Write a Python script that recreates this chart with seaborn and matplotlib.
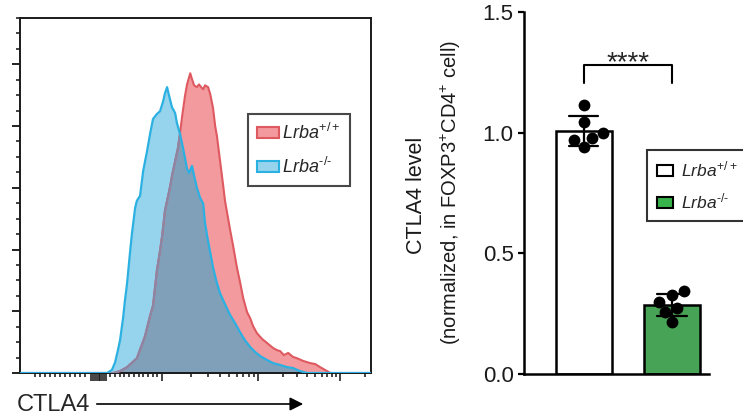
import numpy as np
import pandas as pd
import matplotlib
matplotlib.use("Agg")
import matplotlib.pyplot as plt
import seaborn as sns
from matplotlib.patches import Patch
from matplotlib.ticker import FixedLocator, FormatStrFormatter, NullFormatter

# ---------------- data ----------------
# Flow histogram: CTLA4 channel (0-1000 display units) vs % of mode
wt_channel = [0, 265, 285, 305, 333, 356, 371, 379, 390, 399, 405, 413, 419, 428, 433, 442,
              450, 456, 462, 470, 476, 485, 490, 496, 504, 510, 516, 522, 527, 536, 542, 550,
              556, 561, 570, 579, 584, 599, 607, 618, 627, 636, 647, 656, 664, 675, 690, 704,
              721, 732, 741, 752, 764, 778, 789, 807, 827, 841, 855, 869, 884, 898, 1000]
wt_count = [0, 0, 0.6, 1.9, 4.8, 11.9, 18.7, 21.9, 33.2, 39.7, 44.5, 52.6, 55.8, 60.6, 63.9, 68.7,
            72.9, 77.7, 83.2, 89.7, 93.5, 97.1, 95.2, 93.2, 92.6, 93.5, 92.6, 91.9, 93.2, 92.6, 90.3, 85.8,
            80.0, 76.8, 68.7, 60.6, 55.8, 46.1, 41.3, 34.2, 29.4, 24.2, 19.7, 17.7, 15.2, 12.9, 11.0, 9.7,
            8.1, 7.4, 7.1, 5.8, 6.5, 5.2, 4.8, 3.9, 3.2, 2.9, 1.9, 1.0, 0, 0, 0]

ko_channel = [0, 248, 262, 271, 279, 285, 294, 299, 305, 314, 319, 328, 333, 342, 351, 362,
              371, 379, 390, 399, 408, 413, 419, 425, 433, 442, 447, 456, 462, 470, 476, 482,
              490, 496, 504, 513, 522, 527, 533, 542, 550, 559, 570, 584, 599, 613, 627, 641,
              656, 670, 684, 704, 721, 741, 761, 778, 798, 818, 841, 1000]
ko_count = [0, 0, 1.0, 3.5, 7.4, 10.6, 18.1, 23.5, 29.0, 39.7, 45.2, 53.5, 55.8, 57.4, 65.5, 71.9,
            77.7, 82.3, 83.9, 84.8, 88.1, 90.6, 92.6, 89.7, 86.1, 84.2, 81.0, 77.4, 74.2, 69.7, 66.1, 64.8,
            67.1, 63.9, 60.0, 56.8, 54.8, 48.7, 44.5, 39.0, 34.2, 30.0, 25.8, 22.3, 18.7, 16.1, 13.2, 10.6,
            8.4, 6.8, 5.5, 4.2, 3.2, 2.6, 1.9, 1.6, 0.6, 0, 0, 0]

# x-axis (biexponential display) tick positions, channel units
neg_ticks = [43, 57, 71, 86, 100, 114, 128, 143, 157, 171, 185]
zero_ticks = [203, 209, 214, 219, 224, 229, 234, 240, 245]
pos_ticks = [257, 270, 284, 297, 311, 324, 338, 351, 365, 378, 390]
decade_ticks = [405, 678, 912]
decade_widths = [273, 234, 234]
y_major = [0, 20, 40, 60, 80, 100]
y_minor = [5, 10, 15, 25, 30, 35, 45, 50, 55, 65, 70, 75, 85, 90, 95, 105, 110, 115]

# Bar chart: CTLA4 level normalised, per mouse
genotypes = ["Lrba+/+", "Lrba-/-"]
wt_ctla4 = [1.113, 1.046, 0.979, 0.942, 0.971, 1.000]
ko_ctla4 = [0.329, 0.342, 0.275, 0.300, 0.258, 0.217]
bar_ticks = [0.0, 0.5, 1.0, 1.5]
sig_text = "****"
sig_top, sig_leg, sig_text_y = 1.28, 1.205, 1.258

legend_labels = [r"$\mathit{Lrba}^{+/+}$", r"$\mathit{Lrba}^{\text{-/-}}$"]

# ---------------- style ----------------
sns.set_theme(style="white")
plt.rcParams["font.family"] = ["Liberation Sans", "DejaVu Sans"]
plt.rcParams["mathtext.fontset"] = "custom"
plt.rcParams["mathtext.rm"] = "Liberation Sans"
plt.rcParams["mathtext.it"] = "Liberation Sans:italic"
plt.rcParams["mathtext.bf"] = "Liberation Sans:bold"

WT_FILL = "#f29a9e"
WT_EDGE = "#de5a60"
KO_FILL = "#95d4ec"
KO_EDGE = "#2bb0e2"
OVERLAP = "#80a0b9"
OVERLAP_EDGE = "#8a86a6"
GREEN = "#38b24a"

W, H = 743, 418
fig = plt.figure(figsize=(W / 100, H / 100), dpi=100)
fig.patch.set_facecolor("white")

# ---------------- left: histogram ----------------
ax1 = fig.add_axes([20 / W, 1 - 373 / H, 351 / W, 355 / H])
ko_fill = ax1.fill_between(ko_channel, ko_count, color=KO_FILL, lw=0, zorder=1)
ax1.fill_between(wt_channel, wt_count, color=WT_FILL, lw=0, zorder=1.1)
ov = ax1.fill_between(wt_channel, wt_count, color=OVERLAP, lw=0, zorder=1.2)
ov.set_clip_path(ko_fill.get_paths()[0], ax1.transData)

sns.lineplot(x=wt_channel, y=wt_count, color=WT_EDGE, lw=1.5, ax=ax1, sort=False, zorder=3)
sns.lineplot(x=wt_channel, y=wt_count, color=OVERLAP_EDGE, lw=1.5, ax=ax1, sort=False, zorder=3.1)
ax1.lines[-1].set_clip_path(ko_fill.get_paths()[0], ax1.transData)
sns.lineplot(x=ko_channel, y=ko_count, color=KO_EDGE, lw=1.6, ax=ax1, sort=False, zorder=4)

ax1.set_xlim(0, 1000)
ax1.set_ylim(0, 115)
ax1.set_xlabel("")
ax1.set_ylabel("")

x_minor = list(neg_ticks) + list(pos_ticks)
for start, width in zip(decade_ticks, decade_widths):
    x_minor += [start + width * np.log10(k) for k in range(2, 10) if start + width * np.log10(k) <= 1000]
x_major = list(zero_ticks) + list(decade_ticks)
ax1.xaxis.set_major_locator(FixedLocator(x_major))
ax1.xaxis.set_minor_locator(FixedLocator(x_minor))
ax1.yaxis.set_major_locator(FixedLocator(y_major))
ax1.yaxis.set_minor_locator(FixedLocator(y_minor))
ax1.xaxis.set_major_formatter(NullFormatter())
ax1.yaxis.set_major_formatter(NullFormatter())
ax1.tick_params(axis="both", which="major", direction="out", length=5.5, width=1.3,
                color="#111111", bottom=True, left=True)
ax1.tick_params(axis="x", which="major", width=1.1)
ax1.tick_params(axis="both", which="minor", direction="out", length=3, width=1.1,
                color="#111111", bottom=True, left=True)
for sp in ax1.spines.values():
    sp.set_visible(True)
    sp.set_color("#1a1a1a")
    sp.set_linewidth(1.4)

leg1 = ax1.legend(
    handles=[Patch(facecolor=WT_FILL, edgecolor=WT_EDGE, lw=1.5),
             Patch(facecolor=KO_FILL, edgecolor=KO_EDGE, lw=1.5)],
    labels=legend_labels, loc="upper left",
    bbox_to_anchor=(248 / W, 1 - 114 / H), bbox_transform=fig.transFigure,
    fontsize=13, frameon=True, fancybox=False, edgecolor="#1a1a1a",
    handlelength=1.2, handleheight=0.6, handletextpad=0.2, borderpad=0.5,
    labelspacing=0.75, borderaxespad=0)
leg1.get_frame().set_linewidth(1.5)

fig.text(17 / W, 1 - 405 / H, "CTLA4", fontsize=17, ha="left", va="center")
ax1.annotate("", xy=(306 / W, 1 - 404 / H), xytext=(94 / W, 1 - 404 / H),
             xycoords="figure fraction", textcoords="figure fraction",
             arrowprops=dict(arrowstyle="-|>", lw=1.2, color="black", mutation_scale=20),
             annotation_clip=False)

# ---------------- right: bar chart ----------------
ax2 = fig.add_axes([524 / W, 1 - 374 / H, 185 / W, 362 / H])
bar_df = pd.DataFrame({
    "genotype": [genotypes[0]] * len(wt_ctla4) + [genotypes[1]] * len(ko_ctla4),
    "ctla4": wt_ctla4 + ko_ctla4,
})
sns.barplot(data=bar_df, x="genotype", y="ctla4", hue="genotype", order=genotypes,
            hue_order=genotypes, palette={genotypes[0]: "white", genotypes[1]: GREEN},
            errorbar="sd", capsize=0.33, err_kws={"color": "black", "linewidth": 1.6},
            width=0.64, edgecolor="black", linewidth=1.8, legend=False, ax=ax2)
sns.swarmplot(data=bar_df, x="genotype", y="ctla4", order=genotypes, color="black",
              size=8.5, ax=ax2, zorder=5)

ax2.set_xlim(-0.68, 1.42)
ax2.set_ylim(0, 1.5)
ax2.set_xlabel("")
ax2.set_ylabel("")
ax2.set_yticks(bar_ticks)
ax2.yaxis.set_major_formatter(FormatStrFormatter("%.1f"))
ax2.tick_params(axis="y", which="major", direction="out", length=4.5, width=1.6,
                color="black", left=True, labelsize=16, pad=3, labelcolor="#1a1a1a")
ax2.tick_params(axis="x", bottom=False, labelbottom=False)
sns.despine(ax=ax2)
for side in ["left", "bottom"]:
    ax2.spines[side].set_color("black")
    ax2.spines[side].set_linewidth(1.8)

ax2.plot([0, 0, 1, 1], [sig_leg, sig_top, sig_top, sig_leg], color="black", lw=1.5)
ax2.text(0.5, sig_text_y, sig_text, ha="center", va="baseline", fontsize=20)

fig.text(417 / W, 1 - 195 / H, "CTLA4 level", rotation=90, ha="center", va="center",
         fontsize=15.5, color="#1a1a1a")
fig.text(451 / W, 1 - 193 / H, r"(normalized, in FOXP3$^{+}$CD4$^{+}$ cell)", rotation=90,
         ha="center", va="center", fontsize=14.5, color="#1a1a1a")

leg2 = ax2.legend(
    handles=[Patch(facecolor="white", edgecolor="black", lw=1.5),
             Patch(facecolor=GREEN, edgecolor="black", lw=1.5)],
    labels=legend_labels, loc="upper left",
    bbox_to_anchor=(647 / W, 1 - 150 / H), bbox_transform=fig.transFigure,
    fontsize=12.5, frameon=True, fancybox=False, edgecolor="black",
    handlelength=0.92, handleheight=0.63, handletextpad=0.5, borderpad=0.55,
    labelspacing=0.7, borderaxespad=0)
leg2.get_frame().set_linewidth(1.5)

fig.savefig("out.png", dpi=100, facecolor="white")
